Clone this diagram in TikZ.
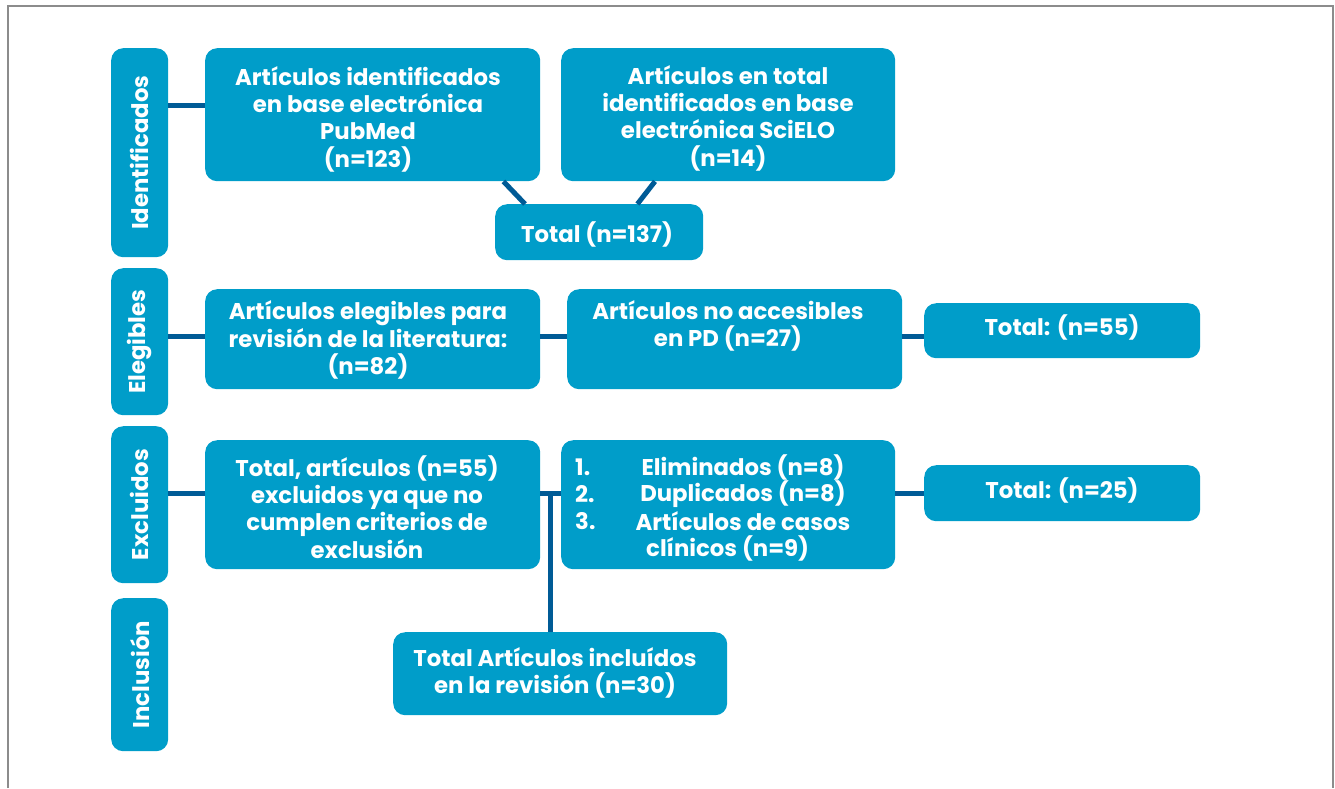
\documentclass[tikz,border=0pt]{standalone}
\usepackage{fontspec}
\setmainfont{Poppins}
\usetikzlibrary{calc}
\definecolor{boxblue}{RGB}{0,157,201}
\definecolor{linkblue}{RGB}{0,91,150}
\definecolor{framegray}{RGB}{140,140,140}
\tikzset{
  box/.style={fill=boxblue, rounded corners=12pt, text=white, align=center,
    inner sep=0pt, anchor=north west, font=\fontsize{22.8}{27.3}\selectfont\bfseries},
  txt/.style={text=white, inner sep=0pt, font=\fontsize{22.8}{27.3}\selectfont\bfseries, align=center},
  conn/.style={draw=linkblue, line width=5pt},
}
\begin{document}
\begin{tikzpicture}[x=1pt,y=-1pt]
\useasboundingbox (0,0) rectangle (1335,788);
\draw[framegray, line width=2pt] (8,788) -- (8,6) -- (1333,6) -- (1333,788);

% side labels
\node[box, minimum width=57pt, minimum height=209pt] (lid) at (111,48) {\rotatebox{90}{Identificados}};
\node[box, minimum width=57pt, minimum height=147pt] (lel) at (111,268) {\rotatebox{90}{Elegibles}};
\node[box, minimum width=57pt, minimum height=157pt] (lex) at (111,426) {\rotatebox{90}{Excluidos}};
\node[box, minimum width=57pt, minimum height=153pt] (lin) at (111,598) {\rotatebox{90}{Inclusión}};

% row 1
\node[box, minimum width=335pt, minimum height=133pt] (pub) at (205,48) {};
\node[txt] (pubt) at (368,119) {Artículos identificados\\en base electrónica\\PubMed\\(n=123)};
\node[box, minimum width=334pt, minimum height=133pt] (sci) at (561,48) {};
\node[txt] (scit) at (728,118) {Artículos en total\\identificados en base\\electrónica SciELO\\(n=14)};
\node[box, minimum width=208pt, minimum height=56pt] (tot) at (495,204) {};
\node[txt] (tott) at (597,234) {Total (n=137)};

% row 2
\node[box, minimum width=335pt, minimum height=100pt] (ele) at (205,289) {};
\node[txt] (elet) at (368,340) {Artículos elegibles para\\revisión de la literatura:\\(n=82)};
\node[box, minimum width=335pt, minimum height=100pt] (noa) at (567,289) {};
\node[txt] (noat) at (728,326) {Artículos no accesibles\\en PD (n=27)};
\node[box, minimum width=276pt, minimum height=55pt] (t55) at (924,303) {};
\node[txt] (t55t) at (1062,327) {Total: (n=55)};

% row 3
\node[box, minimum width=335pt, minimum height=129pt] (exc) at (205,440) {};
\node[txt] (exct) at (367,507) {Total, artículos (n=55)\\excluidos ya que no\\cumplen criterios de\\exclusión};
\node[box, minimum width=334pt, minimum height=129pt] (lst) at (561,440) {};
\node[txt, anchor=west] (n1) at (575,467) {1.};
\node[txt, anchor=west] (n2) at (575,494) {2.};
\node[txt, anchor=west] (n3) at (575,521) {3.};
\node[txt] (i1) at (743,467) {Eliminados (n=8)};
\node[txt] (i2) at (743,494) {Duplicados (n=8)};
\node[txt] (i3) at (743,521) {Artículos de casos};
\node[txt, anchor=west] (i4) at (646,548) {clínicos (n=9)};
\node[box, minimum width=276pt, minimum height=56pt] (t25) at (924,465) {};
\node[txt] (t25t) at (1062,490) {Total: (n=25)};

% row 4
\node[box, minimum width=334pt, minimum height=83pt] (inc) at (393,632) {};
\node[txt] (inct) at (555,673) {Total Artículos incluídos\\en la revisión (n=30)};

% connectors
\draw[conn] ([yshift=9.5pt]pub.west -| lid.east) -- ([yshift=9.5pt]pub.west);
\draw[conn] ($(pub.south east)+(-37,0)$) -- ($(tot.north west)+(30,0)$);
\draw[conn] ($(sci.south west)+(94,0)$) -- ($(tot.north east)+(-66,0)$);

\draw[conn] ([yshift=3pt]ele.west -| lel.east) -- ([yshift=3pt]ele.west);
\draw[conn] ([yshift=3pt]ele.east) -- ([yshift=3pt]ele.east -| noa.west);
\draw[conn] ([yshift=3pt]noa.east) -- ([yshift=3pt]noa.east -| t55.west);

\draw[conn] ([yshift=11.5pt]exc.west -| lex.east) -- ([yshift=11.5pt]exc.west);
\draw[conn] ([yshift=11.5pt]exc.east) -- ([yshift=11.5pt]exc.east -| lst.west);
\coordinate (j) at (550,493);
\draw[conn] (j) -- (j |- inc.north);
\draw[conn] ([yshift=11.5pt]lst.east) -- ([yshift=11.5pt]lst.east -| t25.west);
\end{tikzpicture}
\end{document}
